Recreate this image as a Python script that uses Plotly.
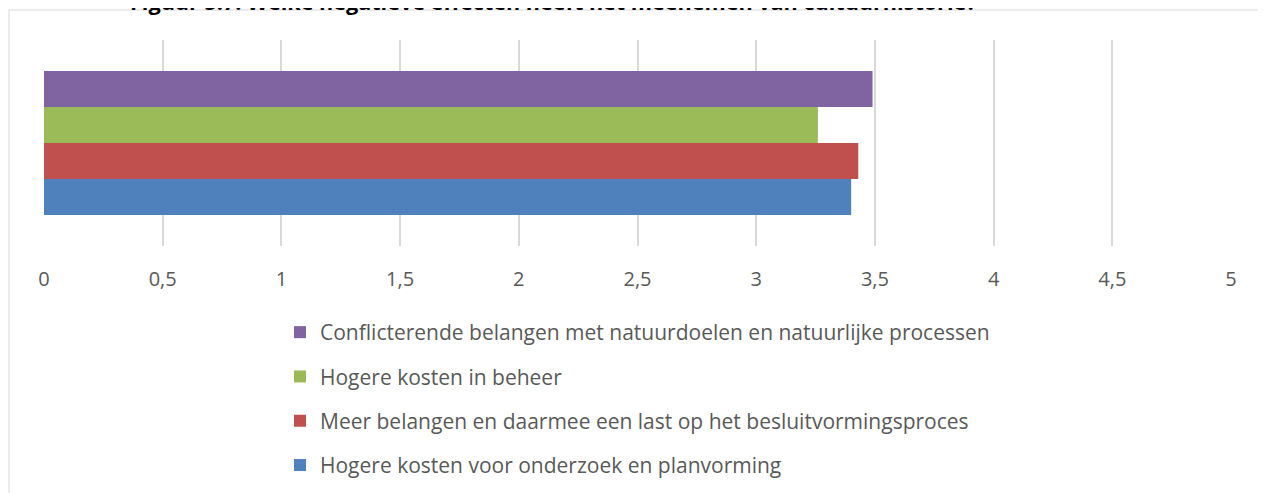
import plotly.graph_objects as go

# data
series = [
    "Hogere kosten voor onderzoek en planvorming",
    "Meer belangen en daarmee een last op het besluitvormingsproces",
    "Hogere kosten in beheer",
    "Conflicterende belangen met natuurdoelen en natuurlijke processen",
]
values = [3.40, 3.43, 3.26, 3.49]
colors = ["#4f81bd", "#c0504d", "#9bbb59", "#8064a2"]
legend_ranks = [4, 3, 2, 1]
tick_vals = [0, 0.5, 1, 1.5, 2, 2.5, 3, 3.5, 4, 4.5, 5]
tick_text = ["0", "0,5", "1", "1,5", "2", "2,5", "3", "3,5", "4", "4,5", "5"]
title = "Figuur 5.7: Welke negatieve effecten heeft het meenemen van cultuurhistorie?"

font = "'Open Sans', Lato, sans-serif"

fig = go.Figure()
for name, val, col, rank in zip(series, values, colors, legend_ranks):
    fig.add_trace(
        go.Bar(
            x=[val],
            y=[""],
            orientation="h",
            name=name,
            legendgroup=name,
            legendrank=rank,
            marker_color=col,
            marker_line_width=0,
        )
    )

# the page body adds an 8px margin, so the figure is drawn 8px in from the corner
OFF = 8
W, H = 1266 - OFF, 493 - OFF
ml, mr, mt, mb = 44 - OFF, 35, 40 - OFF, 247
pw, ph = W - ml - mr, H - mt - mb


# screen pixel -> paper coords
def px(x):
    return (x - OFF - ml) / pw


def py(y):
    return (H - mb - (y - OFF)) / ph


fig.update_layout(
    width=W,
    height=H,
    margin=dict(l=ml, r=mr, t=mt, b=mb, autoexpand=False),
    paper_bgcolor="white",
    plot_bgcolor="white",
    barmode="group",
    bargap=0.3,
    bargroupgap=0,
    font=dict(family=font, size=20, color="#595959"),
    xaxis=dict(
        range=[0, 5],
        tickvals=tick_vals,
        ticktext=tick_text,
        showgrid=True,
        gridcolor="#d9d9d9",
        gridwidth=1.5,
        zeroline=False,
        showline=False,
        ticks="",
        ticklabelstandoff=19,
        automargin=False,
        fixedrange=True,
    ),
    yaxis=dict(showticklabels=False, showgrid=False, zeroline=False,
               automargin=False, fixedrange=True),
    legend=dict(
        x=px(280),
        y=py(312),
        xanchor="left",
        yanchor="top",
        traceorder="grouped",
        tracegroupgap=14,
        font=dict(size=21, color="#595959"),
        itemwidth=30,
    ),
    showlegend=True,
    shapes=[
        dict(
            type="rect",
            xref="paper",
            yref="paper",
            x0=px(9),
            x1=px(1262),
            y0=py(520),
            y1=py(10),
            line=dict(color="#d9d9d9", width=1),
            fillcolor="rgba(0,0,0,0)",
            layer="below",
        )
    ],
    annotations=[
        dict(
            text="<b>" + title + "</b>",
            xref="paper",
            yref="paper",
            x=px(128),
            y=py(1),
            xanchor="left",
            yanchor="middle",
            showarrow=False,
            font=dict(family="'Open Sans', sans-serif", size=21.6, color="black"),
        )
    ],
)

fig.write_html("out.html")
